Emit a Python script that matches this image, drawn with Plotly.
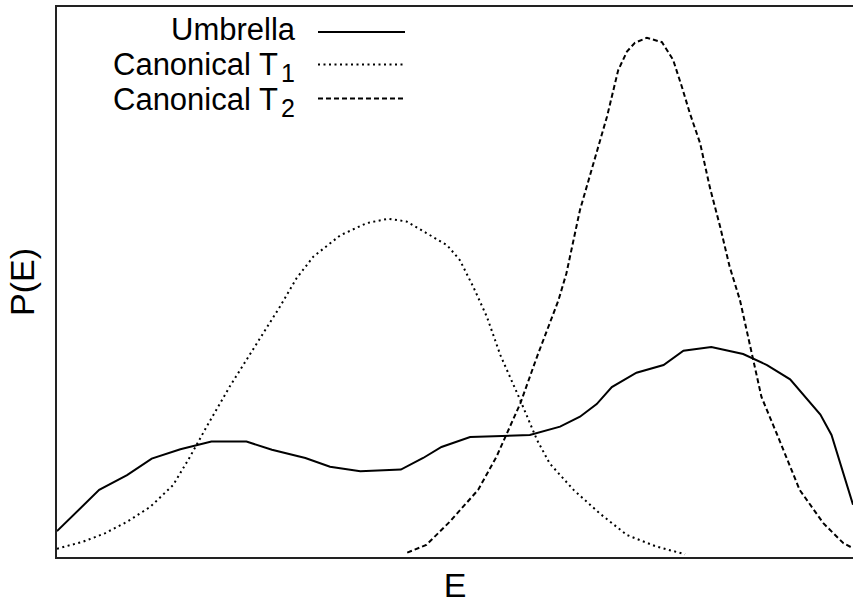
import plotly.graph_objects as go

# ---- data (E in arbitrary units 0-100, P(E) in arbitrary units 0-100) ----
umbrella_E = [0.0, 5.3, 8.8, 11.9, 15.5, 19.4, 23.8, 27.0, 31.2, 34.3, 38.1, 43.2, 46.0, 48.3,
              51.9, 59.4, 63.2, 65.7, 67.8, 69.7, 72.8, 76.2, 78.7, 82.2, 86.2, 89.2, 92.1,
              95.9, 97.3, 100.0]
umbrella_P = [4.7, 12.2, 14.9, 17.9, 19.6, 21.0, 21.0, 19.5, 18.0, 16.4, 15.6, 15.9, 18.0, 20.0,
              21.8, 22.2, 23.7, 25.5, 27.8, 30.9, 33.5, 34.9, 37.5, 38.2, 36.9, 34.9, 32.3,
              25.9, 22.2, 9.5]

t1_E = [0.0, 3.3, 6.0, 8.8, 11.7, 14.6, 16.7, 18.8, 21.7, 23.8, 25.9, 28.0, 30.1, 32.2, 35.6,
        38.9, 41.6, 43.9, 46.4, 49.0, 50.6, 52.3, 54.0, 55.7, 58.2, 60.3, 61.9, 64.9, 68.2,
        71.6, 75.3, 78.9]
t1_P = [1.5, 2.8, 4.3, 6.4, 9.1, 13.1, 18.2, 23.7, 31.0, 35.8, 40.7, 45.5, 50.7, 54.6, 58.5,
        60.7, 61.5, 61.0, 58.9, 56.7, 54.0, 49.1, 43.7, 36.7, 28.5, 21.3, 17.0, 12.2, 7.9,
        4.0, 1.9, 0.5]

t2_E = [44.0, 46.4, 49.4, 52.9, 55.2, 58.2, 60.3, 61.9, 63.0, 64.0, 64.9, 65.7, 66.3, 67.8,
        69.1, 70.5, 71.6, 72.6, 74.1, 76.0, 77.4, 78.5, 79.5, 80.8, 82.0, 83.3, 84.5, 85.8,
        87.5, 88.5, 90.4, 93.3, 96.3, 98.8, 100.0]
t2_P = [0.8, 2.2, 6.5, 12.2, 18.2, 27.9, 36.4, 42.7, 46.7, 51.6, 57.6, 63.1, 66.1, 73.4,
        80.1, 88.5, 91.9, 93.5, 94.4, 93.6, 90.4, 85.5, 80.7, 75.2, 67.3, 60.1, 52.8, 46.7,
        35.8, 29.1, 22.5, 12.2, 6.1, 2.5, 1.6]

series_names = ["Umbrella", "Canonical T<sub>1</sub>", "Canonical T<sub>2</sub>"]
legend_main = ["Umbrella", "Canonical T", "Canonical T"]
legend_sub = ["", "1", "2"]

FONT = "Liberation Sans, Arial, Helvetica, sans-serif"
W, H = 853, 604
L, R, T, B = 57, 0, 7, 47
PW, PH = W - L - R, H - T - B


def px(x):
    return (x - L) / PW


def py(y):
    return (H - B - y) / PH


dashes = ["solid", "2px,3.5px", "5px,3px"]
widths = [2, 2, 2]
data = [(umbrella_E, umbrella_P), (t1_E, t1_P), (t2_E, t2_P)]

fig = go.Figure()
for (xs, ys), name, dash, w in zip(data, series_names, dashes, widths):
    fig.add_trace(go.Scatter(x=xs, y=ys, mode="lines", name=name,
                             line=dict(color="black", width=w, dash=dash),
                             showlegend=False))

# legend drawn in gnuplot style: right-aligned text, sample line at right
row_line_y = [32.0, 64.5, 98.5]
row_base_y = [41.0, 75.6, 110.2]
sub_base_y = [0, 82.3, 117.0]
LFS, SFS = 31, 25
shapes = []
annotations = []
for i in range(3):
    shapes.append(dict(type="line", xref="paper", yref="paper",
                       x0=px(318), x1=px(405), y0=py(row_line_y[i]), y1=py(row_line_y[i]),
                       line=dict(color="black", width=widths[i], dash=dashes[i])))
    right_main = 279 if legend_sub[i] else 297
    annotations.append(dict(xref="paper", yref="paper", x=px(right_main),
                            y=py(row_base_y[i] - 0.36 * LFS),
                            xanchor="right", yanchor="middle", showarrow=False,
                            borderpad=0,
                            text=legend_main[i],
                            font=dict(family=FONT, size=LFS, color="black")))
    if legend_sub[i]:
        annotations.append(dict(xref="paper", yref="paper", x=px(296),
                                y=py(sub_base_y[i] - 0.36 * SFS),
                                xanchor="right", yanchor="middle", showarrow=False,
                                borderpad=0,
                                text=legend_sub[i],
                                font=dict(family=FONT, size=SFS, color="black")))

fig.update_layout(
    width=W, height=H,
    margin=dict(l=L, r=R, t=T, b=B, pad=0, autoexpand=False),
    paper_bgcolor="white", plot_bgcolor="white",
    font=dict(family=FONT, color="black"),
    shapes=shapes, annotations=annotations,
    showlegend=False,
)
fig.update_xaxes(range=[0, 100], showgrid=False, zeroline=False, showticklabels=False,
                 ticks="", showline=True, mirror=True, linecolor="#222", linewidth=2,
                 automargin=False,
                 title=dict(text="E", font=dict(family=FONT, size=34), standoff=22))
fig.update_yaxes(range=[0, 100], showgrid=False, zeroline=False, showticklabels=False,
                 ticks="", showline=True, mirror=False, linecolor="#222", linewidth=2,
                 automargin=False,
                 title=dict(text="P(E)", font=dict(family=FONT, size=34), standoff=10))

fig.write_html("out.html", config={"displayModeBar": False},
               post_script="document.body.style.margin='0px';")
